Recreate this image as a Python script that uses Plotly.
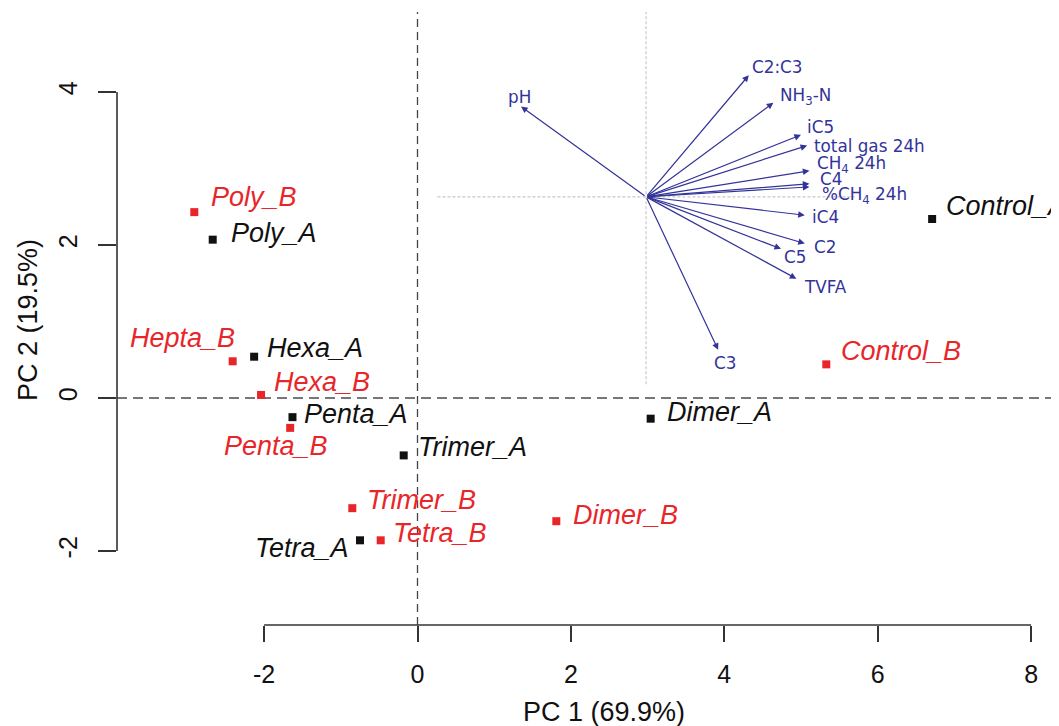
import plotly.graph_objects as go

# ---- data ----
samples = ["Poly_B", "Poly_A", "Hepta_B", "Hexa_A", "Hexa_B", "Penta_A", "Penta_B",
           "Trimer_A", "Trimer_B", "Tetra_A", "Tetra_B", "Dimer_A", "Dimer_B",
           "Control_A", "Control_B"]
pc1 = [-2.91, -2.67, -2.41, -2.13, -2.04, -1.63, -1.66,
       -0.18, -0.85, -0.75, -0.48, 3.04, 1.81, 6.71, 5.33]
pc2 = [2.43, 2.07, 0.48, 0.54, 0.04, -0.25, -0.39,
       -0.75, -1.44, -1.86, -1.86, -0.27, -1.61, 2.34, 0.44]

variables = ["pH", "C2:C3", "NH<sub>3</sub>-N", "iC5", "total gas 24h", "CH<sub>4</sub> 24h",
             "C4", "%CH<sub>4</sub> 24h", "iC4", "C2", "C5", "TVFA", "C3"]
load1 = [-1.63, 1.34, 1.66, 2.02, 2.10, 2.13, 2.13, 2.13, 2.07, 2.07, 1.76, 1.96, 0.94]
load2 = [1.18, 1.59, 1.23, 0.81, 0.67, 0.34, 0.17, 0.13, -0.24, -0.61, -0.68, -1.07, -2.00]
arrow_origin = (2.98, 2.63)

x_ticks = [-2, 0, 2, 4, 6, 8]
y_ticks = [-2, 0, 2, 4]
x_title = "PC 1 (69.9%)"
y_title = "PC 2 (19.5%)"

# ---- styles ----
RED = "#E8262A"
BLACK = "#111111"
NAVY = "#33339A"
AXC = "#333333"

# label placement for samples: (xanchor, xshift px, yshift px)
sample_label_pos = {
    "Poly_B": ("left", 15, 15), "Poly_A": ("left", 16, 7), "Hepta_B": ("right", 4, 23),
    "Hexa_A": ("left", 11, 9), "Hexa_B": ("left", 11, 13), "Penta_A": ("left", 10, 3),
    "Penta_B": ("center", -14, -18), "Trimer_A": ("left", 12, 8), "Trimer_B": ("left", 13, 8),
    "Tetra_A": ("right", -9, -8), "Tetra_B": ("left", 10, 7), "Dimer_A": ("left", 14, 7),
    "Dimer_B": ("left", 15, 6), "Control_A": ("left", 12, 13), "Control_B": ("left", 13, 13),
}
# label placement for loadings: (xanchor, xshift, yshift)
var_label_pos = [("center", -2, 10), ("left", 1, 8), ("left", 5, 6), ("left", 4, 8),
                 ("left", 5, 0), ("left", 6, 6), ("left", 9, 5), ("left", 11, -9),
                 ("left", 5, -2), ("left", 7, -4), ("left", 1, -8), ("left", 6, -8),
                 ("center", 7, -13)]

fig = go.Figure()

grpA = [i for i, s in enumerate(samples) if s.endswith("_A")]
grpB = [i for i, s in enumerate(samples) if s.endswith("_B")]
for grp, col in ((grpA, BLACK), (grpB, RED)):
    fig.add_trace(go.Scatter(
        x=[pc1[i] for i in grp], y=[pc2[i] for i in grp], mode="markers",
        marker=dict(symbol="square", size=8, color=col, line=dict(width=0)),
        hoverinfo="text", text=[samples[i] for i in grp], showlegend=False,
        cliponaxis=False))

annotations = []
for i, s in enumerate(samples):
    anc, xs, ys = sample_label_pos[s]
    col = RED if s.endswith("_B") else BLACK
    annotations.append(dict(x=pc1[i], y=pc2[i], xref="x", yref="y", text="<i>%s</i>" % s,
                            showarrow=False, xanchor=anc, yanchor="middle",
                            xshift=xs, yshift=ys,
                            font=dict(family="Liberation Sans, Arial", size=27, color=col)))

ox, oy = arrow_origin
for k, v in enumerate(variables):
    tx, ty = ox + load1[k], oy + load2[k]
    annotations.append(dict(x=tx, y=ty, ax=ox, ay=oy, xref="x", yref="y", axref="x", ayref="y",
                            text="", showarrow=True, arrowhead=2, arrowsize=1.1,
                            arrowwidth=1.2, arrowcolor=NAVY, standoff=0, startstandoff=0))
    anc, xs, ys = var_label_pos[k]
    annotations.append(dict(x=tx, y=ty, xref="x", yref="y", text=v, showarrow=False,
                            xanchor=anc, yanchor="middle", xshift=xs, yshift=ys,
                            font=dict(family="DejaVu Sans", size=16.8, color=NAVY)))

# axis titles
annotations.append(dict(x=0.517, y=-0.142, xref="paper", yref="paper", text=x_title,
                        showarrow=False, xanchor="center", yanchor="middle",
                        font=dict(family="Liberation Sans, Arial", size=27, color=BLACK)))
annotations.append(dict(x=-0.0945, y=0.4976, xref="paper", yref="paper", text=y_title,
                        showarrow=False, xanchor="center", yanchor="middle", textangle=-90,
                        font=dict(family="Liberation Sans, Arial", size=27, color=BLACK)))

shapes = []
# reference dashed lines through origin
shapes.append(dict(type="line", xref="paper", yref="y", x0=0, x1=1, y0=0, y1=0,
                   line=dict(color="#777777", width=1.8, dash="10px,6px"), layer="below"))
shapes.append(dict(type="line", xref="x", yref="paper", x0=0, x1=0, y0=0, y1=1,
                   line=dict(color="#444444", width=1.3, dash="8px,5px"), layer="below"))
# loading-space axes (dotted light grey)
shapes.append(dict(type="line", xref="x", yref="y", x0=ox - 2.72, x1=ox + 2.72, y0=oy, y1=oy,
                   line=dict(color="#C8C8C8", width=1.2, dash="3px,2px"), layer="below"))
shapes.append(dict(type="line", xref="x", yref="y", x0=ox, x1=ox, y0=oy - 2.45, y1=oy + 2.43,
                   line=dict(color="#C8C8C8", width=1.2, dash="3px,2px"), layer="below"))
# R-style axis lines spanning tick range
shapes.append(dict(type="line", xref="x", yref="paper", x0=min(x_ticks), x1=max(x_ticks),
                   y0=0, y1=0, line=dict(color=AXC, width=1.6)))
shapes.append(dict(type="line", xref="paper", yref="y", x0=0, x1=0,
                   y0=min(y_ticks), y1=max(y_ticks), line=dict(color=AXC, width=1.6)))

# page body has an 8px margin: size the figure to fill the remaining window
fig.update_layout(
    width=1051, height=718,
    margin=dict(l=109, r=0, t=4, b=101),
    paper_bgcolor="white", plot_bgcolor="white",
    annotations=annotations, shapes=shapes,
    xaxis=dict(range=[-3.918, 8.364], tickvals=x_ticks, ticktext=[str(t) for t in x_ticks],
               showgrid=False, zeroline=False, showline=False,
               ticks="outside", ticklen=16, tickwidth=1.6, tickcolor=AXC,
               tickfont=dict(family="Liberation Sans, Arial", size=25, color=BLACK),
               ticklabelstandoff=11),
    yaxis=dict(range=[-2.967, 5.046], tickvals=y_ticks, ticktext=[str(t) for t in y_ticks],
               showgrid=False, zeroline=False, showline=False,
               ticks="outside", ticklen=18, tickwidth=1.6, tickcolor=AXC, tickangle=-90,
               tickfont=dict(family="Liberation Sans, Arial", size=25, color=BLACK),
               ticklabelstandoff=11),
)

fig.write_html("out.html")
